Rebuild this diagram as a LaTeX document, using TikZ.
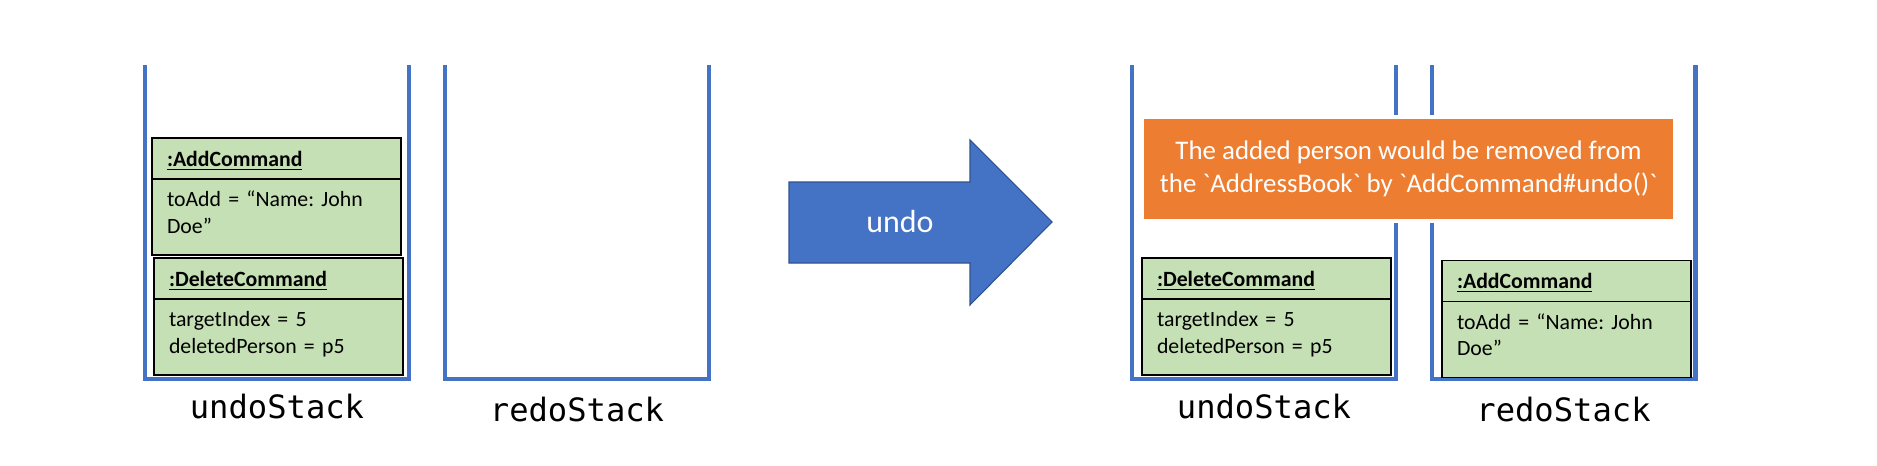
\documentclass[tikz,border=0pt]{standalone}
\usepackage{fontspec}
\setmainfont{Carlito}[Ligatures=TeXOff]
\newfontfamily\stackfont{DejaVu Sans Mono}
\usetikzlibrary{positioning}
\definecolor{stackblue}{HTML}{4472C4}
\definecolor{cmdgreen}{HTML}{C5E0B4}
\definecolor{noteorange}{HTML}{ED7D31}
\definecolor{arrowedge}{HTML}{2F528F}
\frenchspacing

\begin{document}
\begin{tikzpicture}[
  x=0.02cm,y=-0.02cm,
  stack/.style={minimum width=5.28cm,minimum height=6.28cm,inner sep=0pt,outer sep=0pt},
  wall/.style={draw=stackblue,line width=2.3pt,line join=miter},
  stacklbl/.style={inner sep=0pt,font=\stackfont\fontsize{18.3}{22}\selectfont},
  hdr/.style={draw=black,line width=1.1pt,fill=cmdgreen,outer sep=0pt,inner xsep=0.3cm,inner ysep=0pt,
    text width=4.38cm,align=left,text height=0.57cm,text depth=0.25cm,font=\fontsize{12.4}{14.9}\selectfont\bfseries},
  attrs/.style={draw=black,line width=1.1pt,fill=cmdgreen,outer sep=0pt,inner xsep=0.3cm,inner ysep=0pt,
    text width=4.38cm,align=left,text height=0.56cm,text depth=0.96cm,font=\fontsize{12.4}{14.9}\selectfont},
  undoarrow/.style={draw=arrowedge,line width=0.6pt,fill=stackblue,line join=miter},
  note/.style={draw=white,line width=2.28pt,fill=noteorange,minimum width=10.66cm,minimum height=2.08cm,
    text=white,align=center,font=\fontsize{15.3}{19}\selectfont},
]
\useasboundingbox (0,0) rectangle (1877,466);

% the four stacks, open at the top
\node[stack] (undoL) at (277,222) {};
\node[stack] (redoL) at (577,222) {};
\node[stack] (undoR) at (1264,222) {};
\node[stack] (redoR) at (1563.5,222) {};
\foreach \s in {undoL,redoL,undoR,redoR}
  \draw[wall] (\s.north west) |- (\s.south east) -- (\s.north east);

\node[stacklbl,below=0.29cm of undoL] (undoLT) {undoStack};
\node[stacklbl,below=0.35cm of redoL] (redoLT) {redoStack};
\node[stacklbl,below=0.29cm of undoR] (undoRT) {undoStack};
\node[stacklbl,below=0.35cm of redoR] (redoRT) {redoStack};

% before undo
\node[hdr] (addLH) at (276.5,158.5) {\underline{:AddCommand}};
\node[attrs,below=0pt of addLH] (addLB) {toAdd = “Name: John\\Doe”};
\node[hdr] (delLH) at (278.5,278.5) {\underline{:DeleteCommand}};
\node[attrs,below=0pt of delLH] (delLB) {targetIndex = 5\\deletedPerson = p5};

% undo arrow
\draw[undoarrow] (789,182) -- (970,182) -- (970,140) -- (1052,222) -- (970,305) -- (970,263) -- (789,263) -- cycle;
\node[text=white,font=\fontsize{18.2}{22}\selectfont] (undoTxt) at (900,222) {undo};

% after undo
\node[hdr] (delRH) at (1266.5,278.5) {\underline{:DeleteCommand}};
\node[attrs,below=0pt of delRH] (delRB) {targetIndex = 5\\deletedPerson = p5};
\node[hdr] (addRH) at (1566.5,281) {\underline{:AddCommand}};
\node[attrs,below=0pt of addRH] (addRB) {toAdd = “Name: John\\Doe”};

\node[note] (removeNote) at (1408.5,169)
  {The added person would be removed from\\the \textasciigrave AddressBook\textasciigrave{} by \textasciigrave AddCommand\#undo()\textasciigrave};
\end{tikzpicture}
\end{document}
